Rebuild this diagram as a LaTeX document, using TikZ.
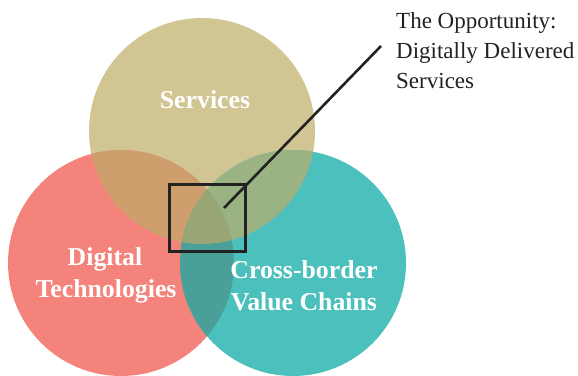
\documentclass[tikz,border=0pt]{standalone}
\usepackage{fontspec}
\setmainfont{Liberation Serif}
\definecolor{cS}{HTML}{D0C593}
\definecolor{cD}{HTML}{F3837B}
\definecolor{cC}{HTML}{4BC0BC}
\definecolor{cSD}{HTML}{CE9F6C}
\definecolor{cSC}{HTML}{9BB282}
\definecolor{cDC}{HTML}{48A098}
\definecolor{cSDC}{HTML}{98A675}
\definecolor{ink}{HTML}{222222}
\begin{document}
\begin{tikzpicture}[x=1pt,y=-1pt,
  circlabel/.style={text=white,font=\fontsize{25.8}{30}\selectfont\bfseries,anchor=base,inner sep=0pt},
  notelabel/.style={text=ink,font=\fontsize{23}{28}\selectfont,anchor=base west,inner sep=0pt},
  focusbox/.style={draw=ink,line width=3pt,minimum width=76pt,minimum height=67pt,inner sep=0pt},
  pointer/.style={draw=ink,line width=2.6pt}]
\useasboundingbox (0,0) rectangle (578,375);
\def\circS{(202,131) circle[radius=113pt]}
\def\circD{(121,263) circle[radius=113pt]}
\def\circC{(293,263) circle[radius=113pt]}
\fill[cS] \circS;
\fill[cD] \circD;
\fill[cC] \circC;
\begin{scope}\clip \circS; \fill[cSD] \circD; \end{scope}
\begin{scope}\clip \circS; \fill[cSC] \circC; \end{scope}
\begin{scope}\clip \circD; \fill[cDC] \circC; \end{scope}
\begin{scope}\clip \circS; \clip \circD; \fill[cSDC] \circC; \end{scope}
% labels
\node[circlabel] (serv) at (205,108) {Services};
\node[circlabel] (dig1) at (105,265) {Digital};
\node[circlabel] (dig2) at (106,297) {Technologies};
\node[circlabel] (cb1) at (304,278) {Cross-border};
\node[circlabel] (cb2) at (304,310) {Value Chains};
\node[notelabel] (n1) at (396,28) {The Opportunity:};
\node[notelabel] (n2) at (396,58) {Digitally Delivered};
\node[notelabel] (n3) at (396,88) {Services};
% focus box and pointer
\node[focusbox] (box) at (207,217.5) {};
\coordinate (pstart) at (224,208);
\coordinate (pend) at (381,46);
\draw[pointer] (pstart) -- (pend);
\end{tikzpicture}
\end{document}
